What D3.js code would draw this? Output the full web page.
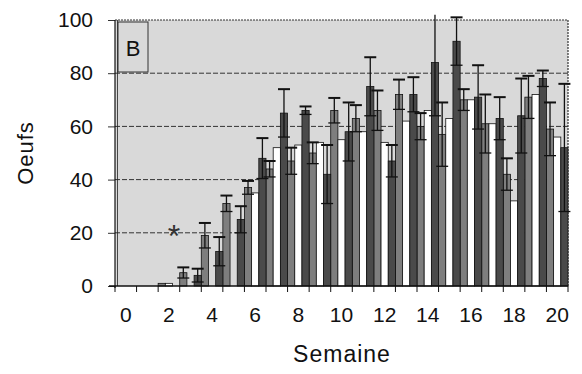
<!DOCTYPE html>
<html><head><meta charset="utf-8">
<script src="https://cdn.jsdelivr.net/npm/d3@7"></script>
<style>html,body{margin:0;padding:0;background:#fff;}svg{display:block;}</style>
</head><body>
<svg id="chart" width="582" height="374"></svg>
<script>
// ---- data ----
const weeks = [0,1,2,3,4,5,6,7,8,9,10,11,12,13,14,15,16,17,18,19,20];
const tickLabels = [0,2,4,6,8,10,12,14,16,18,20];
const yTicks = [0,20,40,60,80,100];
// left bar in each week (medium grey)
const seriesA = [0,0,1,5,19,31,37,44,47,50,66,63,66,72,60,57,70,61,42,71,59];
const errA    = [0,0,0,2,4.7,3,2.5,3,5,4,4.7,5,7.5,5.6,5,12,4,11,6,8,10];
// middle bar in each week (white)
const seriesB = [0,0,1,0,0,0,35,52,53,54,55,58,54,62,66,63,70,61,32,72,56];
// right bar in each week (dark grey)
const seriesC = [0,0,0,4,13,25,48,65,66,42,58,75,47,72,84,92,71,63,64,78,52];
const errC    = [0,0,0,2.5,5.4,5,7.6,9,1.5,11,11,11,6,6.5,20,9,12,8,14,3,24];
const yTitle = "Oeufs";
const xTitle = "Semaine";
const panelLabel = "B";

(function () {
// ---- layout ----
const svg = d3.select("#chart");
const pL = 115, pR = 568, pT = 20, pB = 286;
const x = d3.scaleBand().domain(weeks).range([pL, pR]).padding(0);
const xs = d3.scaleBand().domain(["A","B","C"]).range([0, x.bandwidth()]).padding(0);
const y = d3.scaleLinear().domain([0,100]).range([pB, pT]);
const font = "'Liberation Sans', Arial, Helvetica, sans-serif";

// plot background
svg.append("rect").attr("x", pL).attr("y", pT)
  .attr("width", pR-pL).attr("height", pB-pT)
  .attr("fill", "#d9d9d9");

// gridlines
svg.append("g").selectAll("line").data(yTicks.filter(d => d > 0 && d < 100)).join("line")
  .attr("x1", pL).attr("x2", pR)
  .attr("y1", d => y(d)).attr("y2", d => y(d))
  .attr("stroke", "#333").attr("stroke-width", 1).attr("stroke-dasharray", "5,2");

// top & right border (dotted)
svg.append("path")
  .attr("d", `M${pL},${y(100)}H${pR}V${pB}`)
  .attr("fill", "none").attr("stroke", "#333").attr("stroke-width", 1.2)
  .attr("stroke-dasharray", "2,1");

// panel label box
svg.append("rect").attr("x", 118).attr("y", 22).attr("width", 30).attr("height", 50)
  .attr("fill", "none").attr("stroke", "#333").attr("stroke-width", 1);
svg.append("text").attr("x", 133).attr("y", 56).attr("text-anchor", "middle")
  .attr("font-family", font).attr("font-size", 22).attr("fill", "#111").text(panelLabel);

// bars
const rows = weeks.map((w, i) => ({w, A: seriesA[i], B: seriesB[i], C: seriesC[i], eA: errA[i], eC: errC[i]}));
const fills = {A: "#7e7e7e", B: "#ffffff", C: "#4a4a4a"};
const gBars = svg.append("g");
["A","B","C"].forEach(k => {
  gBars.selectAll(null).data(rows.filter(r => r[k] > 0)).join("rect")
    .attr("x", r => x(r.w) + xs(k))
    .attr("y", r => y(r[k]))
    .attr("width", xs.bandwidth())
    .attr("height", r => y(0) - y(r[k]))
    .attr("fill", fills[k])
    .attr("stroke", "#111").attr("stroke-width", 0.8);
});

// error bars (both directions with caps)
const capW = 12;
const gErr = svg.append("g").attr("stroke", "#111").attr("stroke-width", 1.3);
[["A","eA"],["C","eC"]].forEach(([k, ek]) => {
  const data = rows.filter(r => r[ek] > 0);
  const cx = r => x(r.w) + xs(k) + xs.bandwidth()/2;
  gErr.selectAll(null).data(data).join("line")
    .attr("x1", cx).attr("x2", cx)
    .attr("y1", r => y(Math.max(0, r[k]-r[ek]))).attr("y2", r => y(Math.min(102, r[k]+r[ek])));
  gErr.selectAll(null).data(data.filter(r => r[k]+r[ek] <= 102)).join("line")
    .attr("x1", r => cx(r)-capW/2).attr("x2", r => cx(r)+capW/2)
    .attr("y1", r => y(r[k]+r[ek])).attr("y2", r => y(r[k]+r[ek]))
    .attr("stroke-width", 2);
  gErr.selectAll(null).data(data.filter(r => r[k]-r[ek] > 0)).join("line")
    .attr("x1", r => cx(r)-capW/2).attr("x2", r => cx(r)+capW/2)
    .attr("y1", r => y(r[k]-r[ek])).attr("y2", r => y(r[k]-r[ek]));
});

// asterisk
svg.append("text").attr("x", 174).attr("y", 247).attr("text-anchor", "middle")
  .attr("font-family", font).attr("font-size", 32).attr("fill", "#333").text("*");

// y axis
const yAxis = svg.append("g").attr("transform", `translate(${pL},0)`)
  .call(d3.axisLeft(y).tickValues(yTicks).tickSize(7).tickPadding(15));
yAxis.select(".domain").remove();
yAxis.selectAll(".tick line").attr("stroke", "#333");
yAxis.selectAll("text").attr("font-family", font).attr("font-size", 21).attr("fill", "#111");
// double left axis line
svg.append("line").attr("x1", pL).attr("x2", pL).attr("y1", pT).attr("y2", pB+2)
  .attr("stroke", "#111").attr("stroke-width", 1.2);
svg.append("line").attr("x1", pL+2.5).attr("x2", pL+2.5).attr("y1", pT).attr("y2", pB)
  .attr("stroke", "#222").attr("stroke-width", 0.8);

// x axis
svg.append("line").attr("x1", pL-6).attr("x2", pR).attr("y1", pB).attr("y2", pB)
  .attr("stroke", "#111").attr("stroke-width", 1.5);
const bounds = weeks.map(w => x(w)).concat([x.range()[1]]);
svg.append("g").selectAll("line").data(bounds).join("line")
  .attr("x1", d => d).attr("x2", d => d).attr("y1", pB).attr("y2", pB+6)
  .attr("stroke", "#111").attr("stroke-width", 1);
const xAxis = svg.append("g").attr("transform", `translate(0,${pB})`)
  .call(d3.axisBottom(x).tickValues(tickLabels).tickSize(0).tickPadding(0));
xAxis.select(".domain").remove();
xAxis.selectAll("text").attr("y", 36).attr("dy", 0)
  .attr("font-family", font).attr("font-size", 21).attr("fill", "#111");

// titles
svg.append("text").attr("x", 342).attr("y", 362).attr("text-anchor", "middle")
  .attr("font-family", font).attr("font-size", 23).attr("letter-spacing", 1).attr("fill", "#111").text(xTitle);
svg.append("text").attr("transform", "translate(33,153) rotate(-90)").attr("text-anchor", "middle")
  .attr("font-family", font).attr("font-size", 22).attr("letter-spacing", 1).attr("fill", "#111").text(yTitle);
})();
</script>
</body></html>
